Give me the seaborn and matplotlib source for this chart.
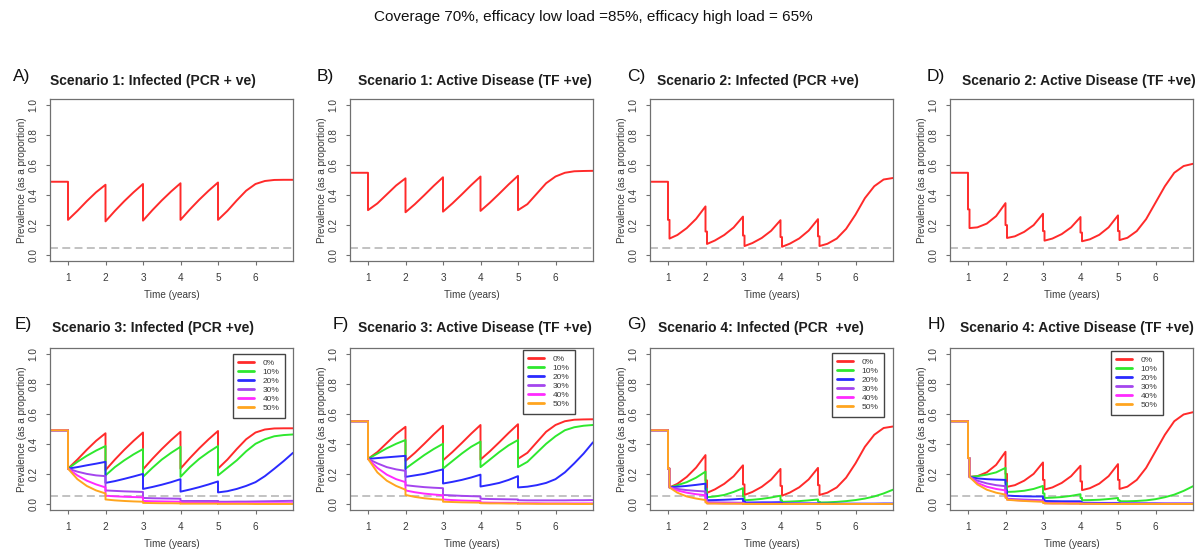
import numpy as np
import pandas as pd
import matplotlib
matplotlib.use("Agg")
import matplotlib.pyplot as plt
from matplotlib.lines import Line2D
import seaborn as sns

sns.set_theme(style="white")
plt.rcParams["font.family"] = ["Liberation Sans", "DejaVu Sans"]

# ---------------------------------------------------------------- data
SUPTITLE = "Coverage 70%, efficacy low load =85%, efficacy high load = 65%"
COVERAGE_LEVELS = ["0%", "10%", "20%", "30%", "40%", "50%"]
LINE_COLOURS = ["#ff2a2a", "#2ee82e", "#2a2aff", "#a445ee", "#ff2aff", "#ffa51f"]

PANEL_LETTERS = ["A)", "B)", "C)", "D)", "E)", "F)", "G)", "H)"]
PANEL_TITLES = [
    "Scenario 1: Infected (PCR + ve)",
    "Scenario 1: Active Disease (TF +ve)",
    "Scenario 2: Infected (PCR +ve)",
    "Scenario 2: Active Disease (TF +ve)",
    "Scenario 3: Infected (PCR +ve)",
    "Scenario 3: Active Disease (TF +ve)",
    "Scenario 4: Infected (PCR  +ve)",
    "Scenario 4: Active Disease (TF +ve)",
]
X_LABEL = "Time (years)"
Y_LABEL = "Prevalence (as a proportion)"
X_TICKS = [1, 2, 3, 4, 5, 6]
Y_TICKS = [0.0, 0.2, 0.4, 0.6, 0.8, 1.0]
Y_TICK_LABELS = ["0.0", "0.2", "0.4", "0.6", "0.8", "1.0"]
THRESHOLD = 0.05

# one annual treatment round (scenarios 1 and 3)
T_SINGLE = [0.5, 1.0,
            1.0, 1.25, 1.5, 1.75, 2.0,
            2.0, 2.25, 2.5, 2.75, 3.0,
            3.0, 3.25, 3.5, 3.75, 4.0,
            4.0, 4.25, 4.5, 4.75, 5.0,
            5.0, 5.25, 5.5, 5.75, 6.0, 6.25, 6.5, 6.75, 7.0]

# two closely spaced rounds per year (scenarios 2 and 4)
T_DOUBLE = [0.5,
            1.0, 1.0, 1.04, 1.04, 1.25, 1.5, 1.75,
            2.0, 2.0, 2.04, 2.04, 2.25, 2.5, 2.75,
            3.0, 3.0, 3.04, 3.04, 3.25, 3.5, 3.75,
            4.0, 4.0, 4.04, 4.04, 4.25, 4.5, 4.75,
            5.0, 5.0, 5.04, 5.04, 5.25, 5.5, 5.75, 6.0, 6.25, 6.5, 6.75, 7.0]

# scenario 1 / scenario 3 at 0%
S1_INFECTED = [0.49, 0.49,
               0.235, 0.295, 0.36, 0.42, 0.47,
               0.225, 0.295, 0.36, 0.42, 0.475,
               0.23, 0.30, 0.365, 0.425, 0.48,
               0.235, 0.305, 0.37, 0.43, 0.485,
               0.235, 0.295, 0.365, 0.43, 0.475, 0.495, 0.502, 0.503, 0.503]
S1_ACTIVE = [0.55, 0.55,
             0.30, 0.345, 0.405, 0.465, 0.513,
             0.286, 0.34, 0.40, 0.462, 0.52,
             0.29, 0.345, 0.405, 0.467, 0.525,
             0.295, 0.35, 0.41, 0.472, 0.53,
             0.30, 0.34, 0.41, 0.48, 0.525, 0.55, 0.56, 0.562, 0.563]

# scenario 2 / scenario 4 at 0%
S2_INFECTED = [0.49,
               0.49, 0.235, 0.235, 0.11, 0.134, 0.18, 0.242,
               0.325, 0.157, 0.157, 0.074, 0.097, 0.134, 0.184,
               0.257, 0.13, 0.13, 0.06, 0.08, 0.114, 0.162,
               0.233, 0.12, 0.12, 0.055, 0.076, 0.111, 0.163,
               0.24, 0.125, 0.125, 0.06, 0.075, 0.11, 0.175, 0.27, 0.38, 0.46, 0.505, 0.515]
S2_ACTIVE = [0.55,
             0.55, 0.305, 0.305, 0.18, 0.185, 0.21, 0.26,
             0.347, 0.20, 0.20, 0.114, 0.125, 0.155, 0.20,
             0.276, 0.16, 0.16, 0.096, 0.11, 0.14, 0.185,
             0.254, 0.15, 0.15, 0.092, 0.105, 0.135, 0.185,
             0.265, 0.16, 0.16, 0.10, 0.115, 0.16, 0.24, 0.35, 0.46, 0.55, 0.595, 0.61]

# scenario 3, infected
S3_INF_10 = [0.49, 0.49,
             0.235, 0.28, 0.32, 0.355, 0.385,
             0.19, 0.245, 0.29, 0.33, 0.365,
             0.18, 0.24, 0.295, 0.34, 0.38,
             0.18, 0.245, 0.30, 0.345, 0.385,
             0.19, 0.24, 0.29, 0.35, 0.40, 0.43, 0.45, 0.458, 0.462]
S3_INF_20 = [0.49, 0.49,
             0.235, 0.245, 0.257, 0.268, 0.28,
             0.14, 0.152, 0.167, 0.183, 0.20,
             0.10, 0.113, 0.128, 0.145, 0.165,
             0.082, 0.096, 0.112, 0.13, 0.15,
             0.077, 0.085, 0.10, 0.12, 0.145, 0.185, 0.234, 0.285, 0.34]
S3_INF_30 = [0.49, 0.49,
             0.235, 0.215, 0.20, 0.19, 0.185,
             0.09, 0.087, 0.084, 0.082, 0.08,
             0.04, 0.038, 0.037, 0.036, 0.035,
             0.02, 0.02, 0.02, 0.02, 0.02,
             0.015, 0.015, 0.016, 0.016, 0.017, 0.018, 0.019, 0.02, 0.021]
S3_INF_40 = [0.49, 0.49,
             0.235, 0.19, 0.155, 0.13, 0.11,
             0.055, 0.051, 0.048, 0.046, 0.044,
             0.02, 0.018, 0.017, 0.016, 0.015,
             0.008, 0.008, 0.007, 0.007, 0.007,
             0.005, 0.005, 0.005, 0.005, 0.005, 0.005, 0.005, 0.005, 0.005]
S3_INF_50 = [0.49, 0.49,
             0.235, 0.165, 0.12, 0.09, 0.07,
             0.03, 0.024, 0.02, 0.017, 0.015,
             0.007, 0.006, 0.005, 0.005, 0.004,
             0.002, 0.002, 0.002, 0.002, 0.002,
             0.001, 0.001, 0.001, 0.001, 0.0, 0.0, 0.0, 0.0, 0.0]

# scenario 3, active disease
S3_ACT_10 = [0.55, 0.55,
             0.30, 0.335, 0.37, 0.40, 0.425,
             0.235, 0.28, 0.325, 0.365, 0.40,
             0.235, 0.285, 0.335, 0.38, 0.415,
             0.245, 0.295, 0.345, 0.39, 0.425,
             0.245, 0.28, 0.34, 0.40, 0.45, 0.49, 0.51, 0.52, 0.525]
S3_ACT_20 = [0.55, 0.55,
             0.30, 0.305, 0.31, 0.315, 0.32,
             0.18, 0.19, 0.20, 0.215, 0.23,
             0.136, 0.147, 0.16, 0.176, 0.195,
             0.116, 0.127, 0.14, 0.16, 0.185,
             0.11, 0.115, 0.125, 0.14, 0.165, 0.21, 0.27, 0.335, 0.41]
S3_ACT_30 = [0.55, 0.55,
             0.30, 0.27, 0.245, 0.23, 0.22,
             0.125, 0.118, 0.112, 0.108, 0.105,
             0.06, 0.057, 0.054, 0.052, 0.05,
             0.035, 0.033, 0.032, 0.031, 0.03,
             0.025, 0.024, 0.024, 0.024, 0.024, 0.024, 0.025, 0.025, 0.026]
S3_ACT_40 = [0.55, 0.55,
             0.30, 0.24, 0.195, 0.165, 0.145,
             0.09, 0.078, 0.069, 0.063, 0.058,
             0.03, 0.026, 0.023, 0.021, 0.02,
             0.01, 0.009, 0.008, 0.008, 0.007,
             0.005, 0.005, 0.005, 0.004, 0.004, 0.004, 0.004, 0.004, 0.004]
S3_ACT_50 = [0.55, 0.55,
             0.30, 0.21, 0.155, 0.12, 0.095,
             0.06, 0.047, 0.038, 0.032, 0.028,
             0.015, 0.013, 0.011, 0.01, 0.009,
             0.005, 0.004, 0.004, 0.003, 0.003,
             0.002, 0.002, 0.001, 0.001, 0.001, 0.001, 0.0, 0.0, 0.0]

# scenario 4, infected
S4_INF_10 = [0.49,
             0.49, 0.235, 0.235, 0.11, 0.125, 0.145, 0.175,
             0.215, 0.10, 0.10, 0.045, 0.05, 0.06, 0.08,
             0.105, 0.05, 0.05, 0.025, 0.028, 0.034, 0.043,
             0.055, 0.025, 0.025, 0.014, 0.016, 0.019, 0.024,
             0.03, 0.015, 0.015, 0.01, 0.011, 0.014, 0.019, 0.026, 0.036, 0.05, 0.07, 0.095]
S4_INF_20 = [0.49,
             0.49, 0.235, 0.235, 0.11, 0.115, 0.12, 0.127,
             0.135, 0.065, 0.065, 0.025, 0.026, 0.028, 0.031,
             0.035, 0.018, 0.018, 0.01, 0.01, 0.011, 0.011,
             0.012, 0.007, 0.007, 0.004, 0.004, 0.004, 0.004,
             0.004, 0.003, 0.003, 0.002, 0.002, 0.002, 0.002, 0.002, 0.002, 0.002, 0.003, 0.003]
S4_INF_30 = [0.49,
             0.49, 0.235, 0.235, 0.11, 0.10, 0.092, 0.087,
             0.083, 0.03, 0.03, 0.012, 0.011, 0.01, 0.009,
             0.008, 0.004, 0.004, 0.002, 0.002, 0.002, 0.002,
             0.002, 0.001, 0.001, 0.001, 0.001, 0.001, 0.001,
             0.001, 0.001, 0.001, 0.001, 0.001, 0.001, 0.001, 0.001, 0.001, 0.001, 0.001, 0.001]
S4_INF_40 = [0.49,
             0.49, 0.235, 0.235, 0.11, 0.09, 0.075, 0.065,
             0.058, 0.015, 0.015, 0.005, 0.005, 0.004, 0.004,
             0.003, 0.002, 0.002, 0.001, 0.001, 0.001, 0.001,
             0.001, 0.001, 0.001, 0.001, 0.001, 0.001, 0.001,
             0.001, 0.001, 0.001, 0.0, 0.0, 0.0, 0.0, 0.0, 0.0, 0.0, 0.0, 0.0]
S4_INF_50 = [0.49,
             0.49, 0.235, 0.235, 0.11, 0.075, 0.05, 0.036,
             0.026, 0.01, 0.01, 0.003, 0.003, 0.002, 0.002,
             0.002, 0.001, 0.001, 0.0, 0.0, 0.0, 0.0,
             0.0, 0.0, 0.0, 0.0, 0.0, 0.0, 0.0,
             0.0, 0.0, 0.0, 0.0, 0.0, 0.0, 0.0, 0.0, 0.0, 0.0, 0.0, 0.0]

# scenario 4, active disease
S4_ACT_10 = [0.55,
             0.55, 0.305, 0.305, 0.18, 0.185, 0.195, 0.21,
             0.24, 0.14, 0.14, 0.08, 0.082, 0.088, 0.10,
             0.12, 0.07, 0.07, 0.04, 0.042, 0.046, 0.054,
             0.065, 0.04, 0.04, 0.025, 0.026, 0.028, 0.033,
             0.04, 0.025, 0.025, 0.018, 0.018, 0.02, 0.024, 0.032, 0.045, 0.062, 0.087, 0.118]
S4_ACT_20 = [0.55,
             0.55, 0.305, 0.305, 0.18, 0.17, 0.165, 0.162,
             0.16, 0.09, 0.09, 0.056, 0.053, 0.051, 0.05,
             0.05, 0.03, 0.03, 0.02, 0.019, 0.018, 0.018,
             0.018, 0.012, 0.012, 0.008, 0.008, 0.007, 0.007,
             0.007, 0.005, 0.005, 0.004, 0.004, 0.004, 0.004, 0.004, 0.003, 0.003, 0.003, 0.003]
S4_ACT_30 = [0.55,
             0.55, 0.305, 0.305, 0.18, 0.155, 0.137, 0.125,
             0.118, 0.06, 0.06, 0.035, 0.032, 0.029, 0.027,
             0.025, 0.012, 0.012, 0.008, 0.007, 0.007, 0.006,
             0.006, 0.004, 0.004, 0.003, 0.003, 0.003, 0.003,
             0.003, 0.002, 0.002, 0.002, 0.002, 0.002, 0.002, 0.002, 0.002, 0.002, 0.002, 0.002]
S4_ACT_40 = [0.55,
             0.55, 0.305, 0.305, 0.18, 0.14, 0.115, 0.10,
             0.09, 0.045, 0.045, 0.03, 0.026, 0.022, 0.02,
             0.018, 0.009, 0.009, 0.005, 0.004, 0.004, 0.003,
             0.003, 0.002, 0.002, 0.001, 0.001, 0.001, 0.001,
             0.001, 0.001, 0.001, 0.001, 0.001, 0.001, 0.001, 0.001, 0.001, 0.001, 0.001, 0.001]
S4_ACT_50 = [0.55,
             0.55, 0.305, 0.305, 0.18, 0.13, 0.095, 0.075,
             0.062, 0.04, 0.04, 0.028, 0.024, 0.02, 0.017,
             0.015, 0.007, 0.007, 0.004, 0.003, 0.003, 0.002,
             0.002, 0.001, 0.001, 0.001, 0.001, 0.0, 0.0,
             0.0, 0.0, 0.0, 0.0, 0.0, 0.0, 0.0, 0.0, 0.0, 0.0, 0.0, 0.0]

PANEL_TIMES = [T_SINGLE, T_SINGLE, T_DOUBLE, T_DOUBLE,
               T_SINGLE, T_SINGLE, T_DOUBLE, T_DOUBLE]
PANEL_SERIES = [
    [S1_INFECTED],
    [S1_ACTIVE],
    [S2_INFECTED],
    [S2_ACTIVE],
    [S1_INFECTED, S3_INF_10, S3_INF_20, S3_INF_30, S3_INF_40, S3_INF_50],
    [S1_ACTIVE, S3_ACT_10, S3_ACT_20, S3_ACT_30, S3_ACT_40, S3_ACT_50],
    [S2_INFECTED, S4_INF_10, S4_INF_20, S4_INF_30, S4_INF_40, S4_INF_50],
    [S2_ACTIVE, S4_ACT_10, S4_ACT_20, S4_ACT_30, S4_ACT_40, S4_ACT_50],
]

# ---------------------------------------------------------------- layout (pixels)
W, H = 1198, 551
COL_LEFT = [50, 350, 650, 950]
BOX_W = 243
ROW_TOP = [99.5, 347.5]
ROW_BOTTOM = [261, 510]
TITLE_X = [50, 358, 657, 962, 52, 358, 658, 960]
TITLE_Y = [81.5, 328]
LETTER_X = [13, 317, 627, 927, 15, 333, 627, 928]
LETTER_Y = [76, 325]
LEGEND_XY = {4: (233, 354), 5: (523, 350), 6: (832, 353), 7: (1111, 351)}

TEXT_GREY = "#3a3a3a"
FRAME_GREY = "#707070"

fig = plt.figure(figsize=(W / 100, H / 100), dpi=100)
fig.text(593 / W, 1 - 17 / H, SUPTITLE, ha="center", va="center",
         fontsize=11, color="#111111")

for i in range(8):
    row, col = divmod(i, 4)
    x0, y0, y1 = COL_LEFT[col], ROW_TOP[row], ROW_BOTTOM[row]
    ax = fig.add_axes([x0 / W, 1 - y1 / H, BOX_W / W, (y1 - y0) / H])

    times = PANEL_TIMES[i]
    series = PANEL_SERIES[i]
    levels = COVERAGE_LEVELS[:len(series)]
    frame = pd.DataFrame({
        "time": np.tile(times, len(series)),
        "prevalence": np.concatenate([np.asarray(s, float) for s in series]),
        "coverage": np.repeat(levels, len(times)),
    })

    ax.axhline(THRESHOLD, color="#bdbdbd", lw=1.3, ls=(0, (4.4, 2.4)), zorder=1)
    sns.lineplot(data=frame, x="time", y="prevalence", hue="coverage",
                 hue_order=levels, palette=LINE_COLOURS[:len(series)],
                 estimator=None, sort=False, lw=1.4, legend=False, ax=ax,
                 zorder=2)

    ax.set_xlim(0.52, 7.0)
    ax.set_ylim(-0.04, 1.04)
    ax.set_xticks(X_TICKS)
    ax.set_xticklabels([str(t) for t in X_TICKS])
    ax.set_yticks(Y_TICKS)
    ax.set_yticklabels(Y_TICK_LABELS, rotation=90, va="center")
    ax.tick_params(axis="both", direction="out", length=3, width=0.8,
                   color=FRAME_GREY, labelsize=7.2, labelcolor=TEXT_GREY,
                   pad=5.5, bottom=True, left=True)
    for spine in ax.spines.values():
        spine.set_visible(True)
        spine.set_color(FRAME_GREY)
        spine.set_linewidth(0.9)

    ax.set_xlabel(X_LABEL, fontsize=7.2, color=TEXT_GREY, va="center")
    ax.set_ylabel(Y_LABEL, fontsize=7.2, color=TEXT_GREY, va="center")
    ax.xaxis.set_label_coords(0.5, -34 / (y1 - y0))
    ax.yaxis.set_label_coords(-28 / BOX_W, 0.5)

    fig.text(TITLE_X[i] / W, 1 - TITLE_Y[row] / H, PANEL_TITLES[i],
             ha="left", va="center", fontsize=10, fontweight="bold",
             color="#1e1e1e")
    fig.text(LETTER_X[i] / W, 1 - LETTER_Y[row] / H, PANEL_LETTERS[i],
             ha="left", va="center", fontsize=12.5, color="#111111")

    if i in LEGEND_XY:
        lx, ly = LEGEND_XY[i]
        handles = [Line2D([0], [0], color=c, lw=2.0) for c in LINE_COLOURS]
        leg = ax.legend(handles, COVERAGE_LEVELS, loc="upper left",
                        bbox_to_anchor=(lx / W, 1 - ly / H),
                        bbox_transform=fig.transFigure, borderaxespad=0,
                        fontsize=6, frameon=True, fancybox=False,
                        handlelength=1.9, handletextpad=1.0,
                        labelspacing=0.14, borderpad=0.65)
        leg.get_frame().set_edgecolor("#444444")
        leg.get_frame().set_linewidth(1.0)
        leg.get_frame().set_facecolor("white")
        leg.get_frame().set_alpha(1)
        for txt in leg.get_texts():
            txt.set_color(TEXT_GREY)

fig.savefig("out.png", dpi=100)
